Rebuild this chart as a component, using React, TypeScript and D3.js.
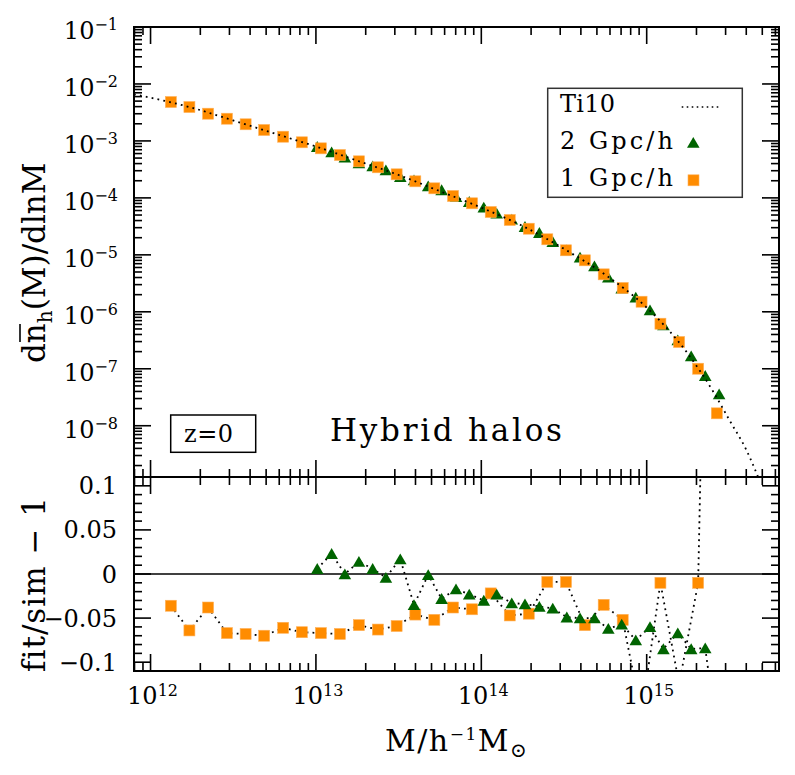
import React from 'react';
import * as d3 from 'd3';

const W = 795;
const H = 775;
const left = 134;
const right = 779;
const top = 27;
const mid = 477;
const bottom = 671;

const FONT = '"DejaVu Serif", serif';

// axis ranges (log10 of mass, log10 of dn/dlnM, ratio)
const massLogRange = [11.9, 15.8];
const nLogRange = [-8.9, -1];
const ratioRange = [-0.11, 0.11];

// Ti10 fit
const fitLogM = [11.9, 12.0, 12.25, 12.5, 12.75, 13.0, 13.25, 13.5, 13.75, 14.0, 14.25, 14.5, 14.75, 15.0, 15.25, 15.4, 15.5, 15.6, 15.7];
const fitLogN = [-2.182, -2.241, -2.417, -2.641, -2.87, -3.098, -3.347, -3.598, -3.883, -4.171, -4.494, -4.894, -5.351, -5.926, -6.74, -7.39, -7.9, -8.41, -9.09];

// 1 Gpc/h box (orange squares)
const box1LogM = [12.123, 12.235, 12.348, 12.462, 12.575, 12.687, 12.802, 12.915, 13.03, 13.145, 13.26, 13.375, 13.488, 13.601, 13.716, 13.829, 13.944, 14.057, 14.172, 14.287, 14.399, 14.512, 14.626, 14.74, 14.855, 14.969, 15.083, 15.196, 15.311, 15.424];
const box1LogN = [-2.317, -2.405, -2.522, -2.61, -2.708, -2.808, -2.926, -3.024, -3.13, -3.247, -3.358, -3.463, -3.586, -3.709, -3.832, -3.967, -4.095, -4.248, -4.388, -4.541, -4.727, -4.92, -5.096, -5.342, -5.582, -5.823, -6.209, -6.53, -6.999, -7.782];
const box1Ratio = [-0.036, -0.064, -0.038, -0.067, -0.068, -0.07, -0.061, -0.066, -0.067, -0.068, -0.058, -0.063, -0.059, -0.046, -0.052, -0.038, -0.04, -0.022, -0.047, -0.045, -0.009, -0.009, -0.058, -0.035, -0.052, -0.16, -0.01, -0.125, -0.01, 1.0];

// 2 Gpc/h box (green triangles)
const box2LogM = [13.008, 13.095, 13.175, 13.26, 13.343, 13.423, 13.51, 13.593, 13.679, 13.76, 13.847, 13.927, 14.015, 14.093, 14.184, 14.264, 14.351, 14.432, 14.517, 14.597, 14.684, 14.768, 14.849, 14.934, 15.02, 15.101, 15.188, 15.269, 15.354, 15.438];
const box2LogN = [-3.101, -3.195, -3.288, -3.388, -3.44, -3.511, -3.628, -3.686, -3.791, -3.861, -3.979, -4.067, -4.165, -4.271, -4.376, -4.506, -4.611, -4.769, -4.915, -5.043, -5.196, -5.394, -5.587, -5.745, -5.968, -6.232, -6.495, -6.776, -7.122, -7.443];
const box2Ratio = [0.006, 0.023, 0.0, 0.014, 0.006, -0.004, 0.017, -0.035, -0.001, -0.028, -0.017, -0.023, -0.03, -0.023, -0.033, -0.034, -0.037, -0.039, -0.049, -0.05, -0.05, -0.062, -0.057, -0.075, -0.06, -0.085, -0.067, -0.085, -0.084, -0.2];

const ratioLabels = ['0.1', '0.05', '0', '−0.05', '−0.1'];

const ORANGE = '#ff8c00';
const GREEN = '#006400';

const x = d3.scaleLog().domain(massLogRange.map(v => Math.pow(10, v))).range([left, right]);
const yTop = d3.scaleLog().domain(nLogRange.map(v => Math.pow(10, v))).range([mid, top]);
const yBot = d3.scaleLinear().domain(ratioRange).range([bottom, mid]);

const isDecade = (v: number) => Math.abs(Math.log10(v) - Math.round(Math.log10(v))) < 1e-6;

const tri = (cx: number, cy: number) => `M${cx},${cy - 5.6}L${cx + 6.3},${cy + 5.2}L${cx - 6.3},${cy + 5.2}Z`;

const Square = ({ cx, cy }: { cx: number; cy: number }) => (
  <rect x={cx - 5.5} y={cy - 5.5} width={11} height={11} fill={ORANGE} stroke="#ffb15a" strokeWidth={0.6} />
);

export default function App() {
  const xTicks = x.ticks().filter(v => v >= x.domain()[0] && v <= x.domain()[1]);
  const yTicks = yTop.ticks().filter(v => v >= yTop.domain()[0] && v <= yTop.domain()[1]);
  const rTicks = d3.range(-10, 11).map(i => i / 100);

  const fitLine = d3.line<number>()
    .x((_, i) => x(Math.pow(10, fitLogM[i])))
    .y(d => yTop(Math.pow(10, d)))
    .curve(d3.curveMonotoneX)(fitLogN);

  const ratioLine = (ms: number[]) => d3.line<number>()
    .x((_, i) => x(Math.pow(10, ms[i])))
    .y(d => yBot(d));

  const tickStroke = { stroke: '#000', strokeWidth: 1.6 };

  return (
    <svg width={W} height={H} style={{ position: 'absolute', left: 0, top: 0, background: '#fff' }} fontFamily={FONT}>
      <defs>
        <clipPath id="clipTop"><rect x={left} y={top} width={right - left} height={mid - top} /></clipPath>
        <clipPath id="clipBot"><rect x={left} y={mid} width={right - left} height={bottom - mid} /></clipPath>
      </defs>

      {/* x ticks on all horizontal axes */}
      {xTicks.map((v, i) => {
        const len = isDecade(v) ? 17 : 8;
        const px = x(v);
        return (
          <g key={'xt' + i} {...tickStroke}>
            <line x1={px} x2={px} y1={top} y2={top + len} />
            <line x1={px} x2={px} y1={mid} y2={mid - len} />
            <line x1={px} x2={px} y1={mid} y2={mid + len} />
            <line x1={px} x2={px} y1={bottom} y2={bottom - len} />
          </g>
        );
      })}

      {/* y ticks, top panel */}
      {yTicks.map((v, i) => {
        const len = isDecade(v) ? 17 : 8;
        const py = yTop(v);
        return (
          <g key={'yt' + i} {...tickStroke}>
            <line x1={left} x2={left + len} y1={py} y2={py} />
            <line x1={right} x2={right - len} y1={py} y2={py} />
          </g>
        );
      })}

      {/* y ticks, ratio panel */}
      {rTicks.map((v, i) => {
        const len = i % 5 === 0 ? 17 : 8;
        const py = yBot(v);
        return (
          <g key={'rt' + i} {...tickStroke}>
            <line x1={left} x2={left + len} y1={py} y2={py} />
            <line x1={right} x2={right - len} y1={py} y2={py} />
          </g>
        );
      })}

      {/* top panel data */}
      <g clipPath="url(#clipTop)">
        {box2LogM.map((m, i) => (
          <path key={'t2' + i} d={tri(x(Math.pow(10, m)), yTop(Math.pow(10, box2LogN[i])))} fill={GREEN} />
        ))}
        {box1LogM.map((m, i) => (
          <Square key={'s1' + i} cx={x(Math.pow(10, m))} cy={yTop(Math.pow(10, box1LogN[i]))} />
        ))}
        <path d={fitLine || ''} fill="none" stroke="#000" strokeWidth={1.8} strokeDasharray="1.8 4.2" />
      </g>

      {/* ratio panel data */}
      <line x1={left} x2={right} y1={yBot(0)} y2={yBot(0)} stroke="#000" strokeWidth={1.6} />
      <g clipPath="url(#clipBot)">
        <path d={ratioLine(box1LogM)(box1Ratio) || ''} fill="none" stroke="#000" strokeWidth={1.8} strokeDasharray="1.8 4.2" />
        <path d={ratioLine(box2LogM)(box2Ratio) || ''} fill="none" stroke="#000" strokeWidth={1.8} strokeDasharray="1.8 4.2" />
        {box1LogM.map((m, i) => (
          <Square key={'rs' + i} cx={x(Math.pow(10, m))} cy={yBot(box1Ratio[i])} />
        ))}
        {box2LogM.map((m, i) => (
          <path key={'rt2' + i} d={tri(x(Math.pow(10, m)), yBot(box2Ratio[i]))} fill={GREEN} />
        ))}
      </g>

      {/* frames */}
      <rect x={left} y={top} width={right - left} height={mid - top} fill="none" stroke="#000" strokeWidth={2} />
      <rect x={left} y={mid} width={right - left} height={bottom - mid} fill="none" stroke="#000" strokeWidth={2} />

      {/* tick labels */}
      {yTicks.filter(isDecade).map((v, i) => (
        <text key={'yl' + i} x={118} y={yTop(v) + 12} textAnchor="end" fontSize={24}>
          10<tspan dy={-9} fontSize={16}>{'−' + Math.round(-Math.log10(v))}</tspan>
        </text>
      ))}
      {[0.1, 0.05, 0, -0.05, -0.1].map((v, i) => (
        <text key={'rl' + i} x={117} y={yBot(v) + 8.5} textAnchor="end" fontSize={24}>{ratioLabels[i]}</text>
      ))}
      {xTicks.filter(isDecade).map((v, i) => (
        <text key={'xl' + i} x={x(v) + 2} y={704} textAnchor="middle" fontSize={24}>
          10<tspan dy={-8} fontSize={16}>{Math.round(Math.log10(v))}</tspan>
        </text>
      ))}

      {/* axis titles */}
      <g transform="translate(45,253) rotate(-90)">
        <text x={-110} y={0} fontSize={31}>
          dn<tspan dy={7} fontSize={20}>h</tspan><tspan dy={-7}>(M)/dlnM</tspan>
        </text>
        <line x1={-89} x2={-71} y1={-25} y2={-25} stroke="#000" strokeWidth={1.6} />
      </g>
      <text transform="translate(45,584) rotate(-90)" textAnchor="middle" fontSize={31} letterSpacing={1}>fit/sim − 1</text>
      <text x={385} y={751} fontSize={30} letterSpacing={1.5}>
        M/h<tspan dy={-11} fontSize={17}>−1</tspan><tspan dy={11}>M</tspan><tspan dy={6} fontSize={20}>⊙</tspan>
      </text>

      {/* legend */}
      <rect x={547.7} y={88.3} width={194.6} height={109} fill="#fff" stroke="#333" strokeWidth={1.5} />
      <text x={560} y={112.3} fontSize={24} textLength={55} lengthAdjust="spacing">Ti10</text>
      <text x={560} y={149} fontSize={24} textLength={113} lengthAdjust="spacing">2 Gpc/h</text>
      <text x={560} y={185.7} fontSize={24} textLength={113} lengthAdjust="spacing">1 Gpc/h</text>
      <line x1={681.7} x2={718.3} y1={107} y2={107} stroke="#000" strokeWidth={1.6} strokeDasharray="1.6 3.4" />
      <path d={tri(693.3, 142.5)} fill={GREEN} />
      <Square cx={693.5} cy={180.3} />

      {/* annotations */}
      <rect x={170.7} y={415} width={85} height={37.3} fill="none" stroke="#000" strokeWidth={1.5} />
      <text x={184} y={441.7} fontSize={24} textLength={49} lengthAdjust="spacing">z=0</text>
      <text x={330} y={441} fontSize={31} textLength={232} lengthAdjust="spacing">Hybrid halos</text>
    </svg>
  );
}
